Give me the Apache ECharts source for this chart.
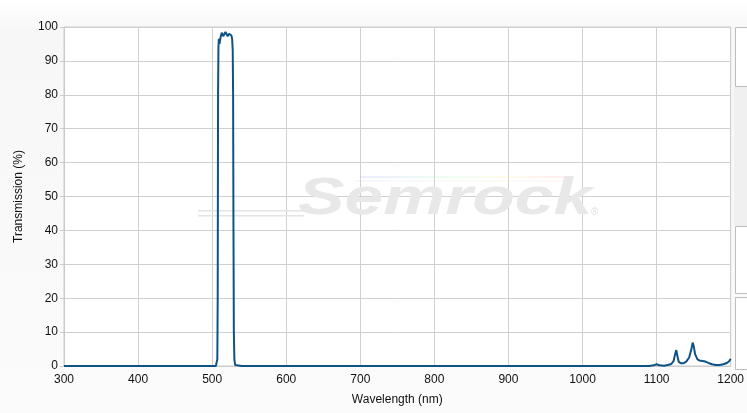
<!DOCTYPE html>
<html>
<head>
<meta charset="utf-8">
<script src="https://cdn.jsdelivr.net/npm/echarts@6/dist/echarts.min.js"></script>
<style>html,body{margin:0;padding:0;}#c{width:747px;height:413px;}</style>
</head>
<body>
<div id="c"></div>
<script>
const wavelength = [300, 500, 505, 506, 507, 507.5, 508, 508.5, 509, 510, 511, 512, 513, 514, 515, 516, 517, 518, 519, 520, 521, 522, 523, 524, 525, 526, 527, 527.8, 528.3, 528.8, 529.3, 530, 531, 532, 540, 1000, 1090, 1096, 1100, 1104, 1110, 1115, 1120, 1123, 1125, 1126.7, 1128, 1130, 1133, 1136, 1140, 1144, 1147, 1148.7, 1150, 1152, 1155, 1158, 1162, 1166, 1170, 1175, 1180, 1185, 1190, 1195, 1198, 1200];
const transmission = [0, 0, 0, 0.5, 2, 20, 80, 94, 96.5, 95, 96.5, 97.5, 98.3, 98, 97.3, 97, 97.6, 98.5, 98.8, 98.3, 97.3, 97.4, 98, 98.3, 98.2, 97.5, 96.5, 93, 80, 40, 10, 2, 0.3, 0, 0, 0, 0, 0.2, 0.5, 0.2, 0.1, 0.3, 0.6, 1.5, 3.5, 4.7, 3, 1.2, 0.8, 0.8, 1.3, 2.5, 5, 6.9, 6, 3.5, 2, 1.6, 1.5, 1.3, 0.9, 0.5, 0.3, 0.3, 0.5, 0.9, 1.4, 2.1];
const xTicks = [300, 400, 500, 600, 700, 800, 900, 1000, 1100, 1200];
const yTicks = [0, 10, 20, 30, 40, 50, 60, 70, 80, 90, 100];

const chart = echarts.init(document.getElementById('c'), null, {renderer: 'canvas'});
const font = 'Liberation Sans, Arial, sans-serif';
const option = {
  animation: false,
  backgroundColor: {type: 'linear', x: 0, y: 0, x2: 0, y2: 1, colorStops: [
    {offset: 0, color: '#ffffff'}, {offset: 0.08, color: '#f7f7f7'}, {offset: 1, color: '#fbfbfb'}]},
  grid: {left: 64, right: 16, top: 27, bottom: 47, show: true, backgroundColor: '#ffffff', borderColor: '#cccccc', borderWidth: 1},
  xAxis: {
    type: 'value', min: 300, max: 1200, interval: 100,
    name: 'Wavelength (nm)', nameLocation: 'middle', nameGap: 28,
    nameTextStyle: {fontFamily: font, fontSize: 12, color: '#111'},
    axisLine: {show: true, lineStyle: {color: '#cccccc'}},
    axisTick: {show: false},
    axisLabel: {fontFamily: font, fontSize: 12, color: '#111', margin: 8,
      formatter: v => xTicks.includes(v) ? String(v) : ''},
    splitLine: {show: true, lineStyle: {color: '#d0d0d0'}}
  },
  yAxis: {
    type: 'value', min: 0, max: 100, interval: 10,
    name: 'Transmission (%)', nameLocation: 'middle', nameGap: 39, nameRotate: 90,
    nameTextStyle: {fontFamily: font, fontSize: 12, color: '#111'},
    axisLine: {show: true, lineStyle: {color: '#cccccc'}},
    axisTick: {show: true, length: 4, lineStyle: {color: '#cccccc'}},
    axisLabel: {fontFamily: font, fontSize: 12, color: '#111', margin: 6,
      formatter: v => yTicks.includes(v) ? String(v) : ''},
    splitLine: {show: true, lineStyle: {color: '#d0d0d0'}}
  },
  graphic: [
    {type: 'rect', z: 1, silent: true, shape: {x: 198, y: 210, width: 112, height: 1.5}, style: {fill: '#e4e4e4'}},
    {type: 'rect', z: 1, silent: true, shape: {x: 198, y: 215, width: 106, height: 1.5}, style: {fill: '#e4e4e4'}},
    {type: 'rect', z: 1, silent: true, shape: {x: 360, y: 176, width: 210, height: 2},
      style: {fill: {type: 'linear', x: 0, y: 0, x2: 1, y2: 0, colorStops: [
        {offset: 0, color: 'rgba(180,180,255,0.25)'}, {offset: 0.4, color: 'rgba(180,255,200,0.25)'},
        {offset: 0.7, color: 'rgba(255,240,180,0.25)'}, {offset: 1, color: 'rgba(255,180,180,0.25)'}]}}},
    {type: 'rect', z: 1, silent: true, shape: {x: 355, y: 180, width: 215, height: 1.5},
      style: {fill: {type: 'linear', x: 0, y: 0, x2: 1, y2: 0, colorStops: [
        {offset: 0, color: 'rgba(200,200,255,0.2)'}, {offset: 0.5, color: 'rgba(220,255,200,0.2)'}, {offset: 1, color: 'rgba(255,200,200,0.2)'}]}}},
    {type: 'text', z: 1, silent: true, x: 298, y: 226, scaleX: 1.34,
      style: {text: 'Semrock', fontFamily: font, fontSize: 52, fontStyle: 'italic', fontWeight: 'bold', fill: '#e8e8e8', textVerticalAlign: 'bottom', textBaseline: 'bottom'}},
    {type: 'text', z: 1, silent: true, x: 591, y: 207,
      style: {text: '®', fontFamily: font, fontSize: 10, fill: '#e0e0e0'}},
    {type: 'rect', z: 1, silent: true, shape: {x: 734, y: 87, width: 13, height: 139}, style: {fill: '#f0f0f0'}},
    {type: 'rect', z: 1, silent: true, shape: {x: 735.5, y: 27.5, width: 14, height: 59}, style: {fill: '#ffffff', stroke: '#bdbdbd', lineWidth: 1}},
    {type: 'rect', z: 1, silent: true, shape: {x: 735.5, y: 226.5, width: 14, height: 67}, style: {fill: '#ffffff', stroke: '#bdbdbd', lineWidth: 1}},
    {type: 'rect', z: 1, silent: true, shape: {x: 735.5, y: 297.5, width: 14, height: 72}, style: {fill: '#ffffff', stroke: '#bdbdbd', lineWidth: 1}}
  ],
  series: [{
    type: 'line', showSymbol: false, smooth: false, z: 5,
    data: wavelength.map((w, i) => [w, transmission[i]]),
    lineStyle: {color: '#0e5384', width: 2},
    itemStyle: {color: '#0e5384'}
  }]
};
chart.setOption(option);
</script>
</body>
</html>
